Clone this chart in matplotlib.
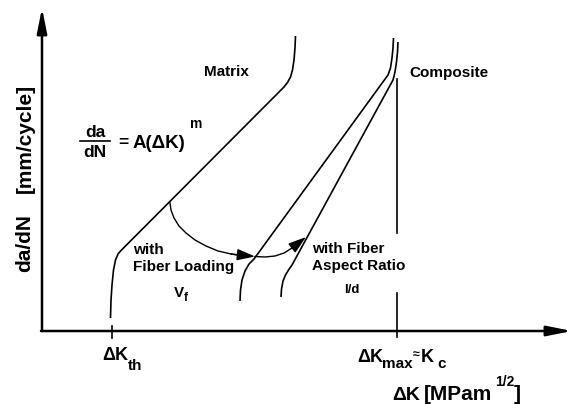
import matplotlib
matplotlib.use("Agg")
import matplotlib.pyplot as plt

plt.rcParams["font.family"] = ["Liberation Sans", "DejaVu Sans"]
plt.rcParams["font.weight"] = "bold"

# schematic drawn in image-pixel coordinates (x right, y down)
AXIS_ORIGIN = (42, 331)
X_AXIS_END = 572
Y_AXIS_END = 8
K_TH = 112
K_MAX = 397

MATRIX_X = [110.5, 111, 112, 113.5, 115.5, 118, 121, 284, 287.5, 290.5, 292.5, 294, 295, 295.5]
MATRIX_Y = [318, 300, 285, 270, 260, 254, 250.5, 87, 82.5, 77, 70, 60, 48, 36]

COMP_VF_X = [240, 240.5, 242, 245, 249, 254, 388, 390.5, 392, 393, 393.5]
COMP_VF_Y = [301, 290, 280, 271, 264, 259, 75, 68, 58, 48, 38]

COMP_LD_X = [281, 281.5, 283, 285.5, 288.5, 292, 393, 395, 396.5, 397.5, 398]
COMP_LD_Y = [297, 289, 281, 275, 270, 265, 80, 72, 62, 52, 42]

ARROW1_X = [170, 171, 174, 179, 186, 195, 206, 218, 231, 243, 255]
ARROW1_Y = [203, 210, 218, 226, 233, 240, 246, 251, 254, 256, 256.5]
ARROW2_X = [255, 265, 275, 284, 292, 299, 306]
ARROW2_Y = [256.5, 257, 256, 253, 248, 242, 237]

KMAX_SEGMENTS = [(79, 233), (293, 337)]

fig = plt.figure(figsize=(5.73, 4.04), dpi=100)
ax = fig.add_axes([0, 0, 1, 1])
ax.set_xlim(0, 573)
ax.set_ylim(404, 0)
ax.axis("off")

ox, oy = AXIS_ORIGIN
axis_arrow = dict(arrowstyle="-|>,head_length=1.5,head_width=0.3", lw=1.8, color="black",
                  shrinkA=0, shrinkB=0, mutation_scale=10)
ax.annotate("", xy=(ox, Y_AXIS_END), xytext=(ox, oy), arrowprops=axis_arrow)
ax.annotate("", xy=(X_AXIS_END, oy), xytext=(ox - 1, oy), arrowprops=axis_arrow)

ax.plot([K_TH, K_TH], [326, 338], color="black", lw=1.2)
for y0, y1 in KMAX_SEGMENTS:
    ax.plot([K_MAX, K_MAX], [y0, y1], color="black", lw=1.2)

for xs, ys in [(MATRIX_X, MATRIX_Y), (COMP_VF_X, COMP_VF_Y), (COMP_LD_X, COMP_LD_Y)]:
    ax.plot(xs, ys, color="black", lw=1.2, solid_capstyle="butt")

head = dict(arrowstyle="-|>,head_length=1.1,head_width=0.35", lw=1.0, color="black",
            shrinkA=0, shrinkB=0, mutation_scale=10)
ax.plot(ARROW1_X[:-1], ARROW1_Y[:-1], color="black", lw=1.0)
ax.annotate("", xy=(ARROW1_X[-1], ARROW1_Y[-1]), xytext=(ARROW1_X[-3], ARROW1_Y[-3]), arrowprops=head)
ax.plot(ARROW2_X[:-1], ARROW2_Y[:-1], color="black", lw=1.0)
ax.annotate("", xy=(ARROW2_X[-1], ARROW2_Y[-1]), xytext=(ARROW2_X[-3], ARROW2_Y[-3]), arrowprops=head)


def txt(x, y, s, size, ha="left", va="baseline", **kw):
    ax.text(x, y, s, fontsize=size, ha=ha, va=va, fontweight="bold", **kw)


txt(226, 76, "Matrix", 11, ha="center")
txt(449, 77, "Composite", 11, ha="center")

# Paris law
txt(95, 137, "da", 12.5, ha="center")
ax.plot([80, 110], [141, 141], color="black", lw=1.2)
txt(95, 157, "dN", 12.5, ha="center")
txt(118, 147, "=", 12.5)
txt(133, 148, "A(ΔK)", 13.5)
txt(190, 128, "m", 10)

txt(133, 254, "with", 11)
txt(133, 271, "Fiber Loading", 11)
txt(174, 297, "V", 11)
txt(184, 301, "f", 8.5)

txt(312, 253, "with Fiber", 11)
txt(312, 270, "Aspect Ratio", 11)
txt(352, 293, "l/d", 9.5, ha="center")

txt(25, 243, "da/dN", 15, ha="center", va="center", rotation=90)
txt(25, 138, "[mm/cycle]", 15, ha="center", va="center", rotation=90)

txt(102, 360, "ΔK", 13)
txt(128, 370, "th", 11)

txt(357, 362, "ΔK", 13)
txt(382, 368, "max", 11)
txt(413, 358, "≈", 9)
txt(421, 362, "K", 13)
txt(437, 368, "c", 11)

txt(392, 400, "ΔK", 14)
txt(424, 400, "[MPam", 15)
txt(495, 386, "1/2", 10)
txt(514, 400, "]", 15)

fig.savefig("out.png", dpi=100)
